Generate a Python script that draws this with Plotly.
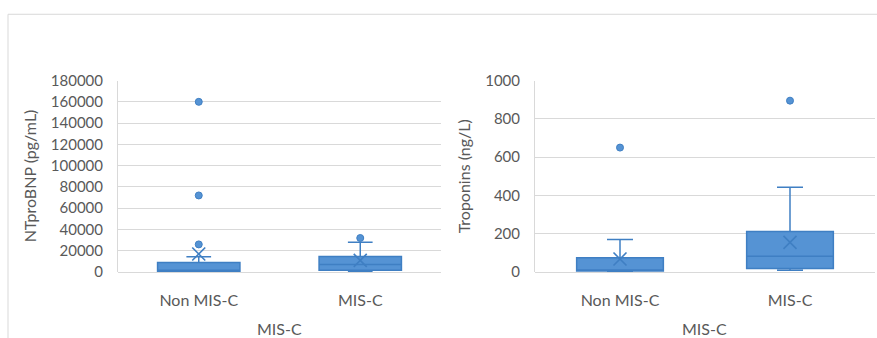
import plotly.graph_objects as go

# Groups on the category axis
groups = ["Non MIS-C", "MIS-C"]

# NTproBNP (pg/mL) box statistics per group
ntbnp_lower = [100, 300]
ntbnp_q1 = [700, 1600]
ntbnp_median = [1300, 7200]
ntbnp_q3 = [9000, 14600]
ntbnp_upper = [14500, 28000]
ntbnp_mean = [17000, 11000]
ntbnp_outlier_groups = ["Non MIS-C", "Non MIS-C", "Non MIS-C", "MIS-C"]
ntbnp_outliers = [26000, 72000, 160000, 32000]

# Troponins (ng/L) box statistics per group
trop_lower = [2, 9]
trop_q1 = [6, 19]
trop_median = [9, 83]
trop_q3 = [75, 212]
trop_upper = [170, 443]
trop_mean = [68, 155]
trop_outlier_groups = ["Non MIS-C", "MIS-C"]
trop_outliers = [650, 895]

ntbnp_ticks = [0, 20000, 40000, 60000, 80000, 100000, 120000, 140000, 160000, 180000]
trop_ticks = [0, 200, 400, 600, 800, 1000]

W, H = 877, 338
# vertical layout helper: page offset and drawable height of the figure
TOP, H_EFF = 8, 322
BOX_FILL = "#5593D4"
BOX_LINE = "#3F7FC3"
TEXT = "#595959"
GRID = "#d9d9d9"
FONT = "Lato, Open Sans, sans-serif"


def fy(y_px):
    return 1 - (y_px - TOP) / H_EFF


fig = go.Figure()


def add_panel(xa, ya, lower, q1, med, q3, upper, mean, out_x, out_y):
    fig.add_trace(go.Box(
        x=groups, q1=q1, median=med, q3=q3, lowerfence=lower, upperfence=upper,
        boxpoints=False, fillcolor=BOX_FILL, line=dict(color=BOX_LINE, width=1.5),
        whiskerwidth=0.3, width=0.51, xaxis=xa, yaxis=ya, showlegend=False,
    ))
    fig.add_trace(go.Scatter(
        x=groups, y=mean, mode="markers", xaxis=xa, yaxis=ya, showlegend=False,
        marker=dict(symbol="x-thin-open", size=13, color=BOX_LINE,
                    line=dict(color=BOX_LINE, width=1.6)),
    ))
    fig.add_trace(go.Scatter(
        x=out_x, y=out_y, mode="markers", xaxis=xa, yaxis=ya, showlegend=False,
        marker=dict(symbol="circle", size=7, color=BOX_FILL, line=dict(color=BOX_LINE, width=1)),
    ))


add_panel("x", "y", ntbnp_lower, ntbnp_q1, ntbnp_median, ntbnp_q3, ntbnp_upper,
          ntbnp_mean, ntbnp_outlier_groups, ntbnp_outliers)
add_panel("x2", "y2", trop_lower, trop_q1, trop_median, trop_q3, trop_upper,
          trop_mean, trop_outlier_groups, trop_outliers)

ydom = [fy(271.7), fy(79)]


def xaxis_style(domain, anchor):
    return dict(domain=domain, anchor=anchor, type="category", categoryorder="array",
                categoryarray=groups, range=[-0.5, 1.5], showgrid=False, showline=False,
                ticks="outside", ticklen=14, tickcolor="rgba(0,0,0,0)",
                tickfont=dict(family=FONT, size=16, color=TEXT), zeroline=False)


def yaxis_style(anchor, rng, ticks):
    return dict(domain=ydom, anchor=anchor, range=rng, tickvals=ticks,
                ticktext=[str(t) for t in ticks], showgrid=True, gridcolor=GRID,
                gridwidth=1, zeroline=True, zerolinecolor=GRID, zerolinewidth=1,
                showline=True, linecolor=GRID, linewidth=1,
                ticks="outside", ticklen=11, tickcolor="rgba(0,0,0,0)",
                tickfont=dict(family=FONT, size=15, color=TEXT))


annotations = [
    dict(text="NTproBNP (pg/mL)", x=29 / W, y=fy(175.4), textangle=-90),
    dict(text="Troponins (ng/L)", x=463 / W, y=fy(175.4), textangle=-90),
    dict(text="MIS-C", x=279.5 / W, y=fy(328)),
    dict(text="MIS-C", x=704.5 / W, y=fy(328)),
]
for a in annotations:
    a.update(xref="paper", yref="paper", showarrow=False, xanchor="center",
             yanchor="middle", font=dict(family=FONT, size=16, color=TEXT))

# light frame around the whole chart area
shapes = [dict(type="rect", xref="paper", yref="paper", x0=8 / W, x1=1.05,
               y0=-0.1, y1=fy(12.3), line=dict(color=GRID, width=1),
               fillcolor="rgba(0,0,0,0)", layer="below")]

fig.update_layout(
    width=W, height=H, autosize=False,
    margin=dict(l=0, r=0, t=0, b=0),
    paper_bgcolor="white", plot_bgcolor="white",
    xaxis=xaxis_style([118 / W, 441 / W], "y"),
    yaxis=yaxis_style("x", [0, 180000], ntbnp_ticks),
    xaxis2=xaxis_style([535 / W, 875 / W], "y2"),
    yaxis2=yaxis_style("x2", [0, 1000], trop_ticks),
    annotations=annotations,
    shapes=shapes,
)

fig.write_html("out.html")
